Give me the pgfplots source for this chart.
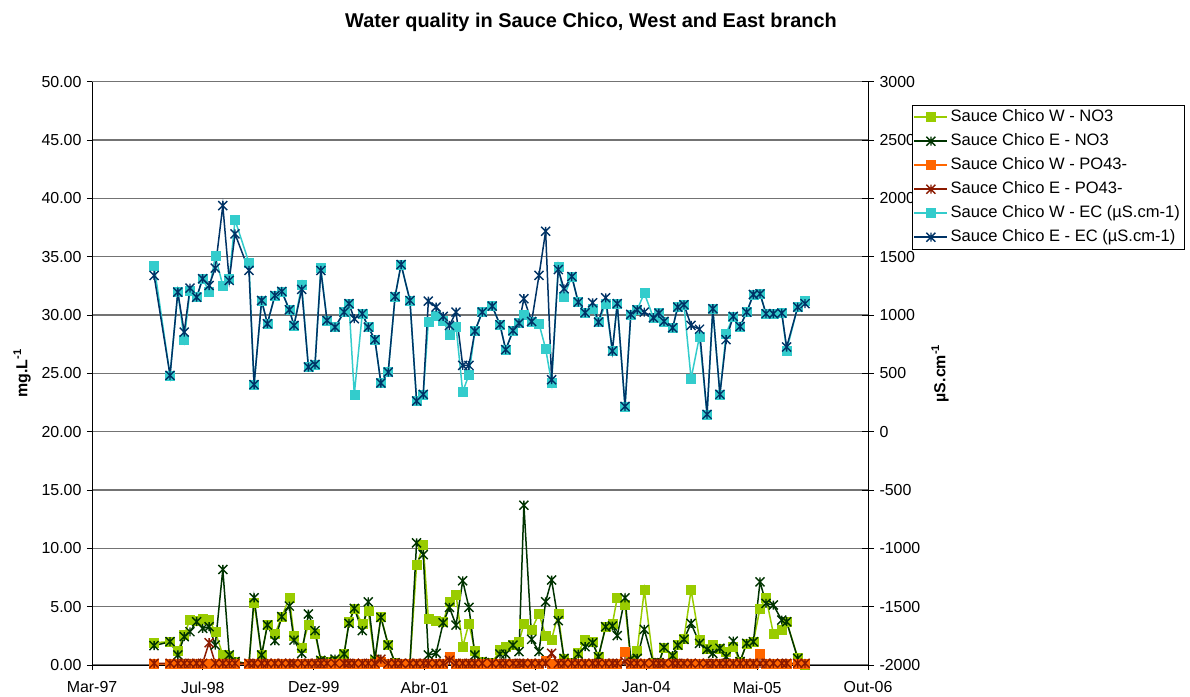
\documentclass[border=0pt]{standalone}
\usepackage{fontspec}
\setmainfont{Liberation Sans}
\usepackage{pgfplots}
\pgfplotsset{compat=1.18}
\usepackage{pgfplotstable}

\definecolor{nwc}{HTML}{99CC00}
\definecolor{nec}{HTML}{003300}
\definecolor{pwc}{HTML}{FF6600}
\definecolor{pec}{HTML}{8B1A00}
\definecolor{ewc}{HTML}{33CCCC}
\definecolor{eec}{HTML}{003366}

\pgfdeclareplotmark{xstar}{%
  \pgfpathmoveto{\pgfqpoint{0pt}{\pgfplotmarksize}}%
  \pgfpathlineto{\pgfqpoint{0pt}{-\pgfplotmarksize}}%
  \pgfpathmoveto{\pgfqpoint{-\pgfplotmarksize}{-\pgfplotmarksize}}%
  \pgfpathlineto{\pgfqpoint{\pgfplotmarksize}{\pgfplotmarksize}}%
  \pgfpathmoveto{\pgfqpoint{-\pgfplotmarksize}{\pgfplotmarksize}}%
  \pgfpathlineto{\pgfqpoint{\pgfplotmarksize}{-\pgfplotmarksize}}%
  \pgfusepathqstroke}

\pgfplotsset{
  sqstyle/.style={color=#1, line width=1.5bp, mark=square*, mark size=4.5bp,
    mark options={solid, fill=#1, draw=#1, line width=0.5bp}},
  ststyle/.style={color=#1, line width=1.5bp, mark=xstar, mark size=4.5bp,
    mark options={solid, draw=#1, line width=1.4bp}},
}

% d = days since March 1997
\pgfplotstableread{
d nw ne pw pe ecw ece
280 1.91 1.66 0.10 0.15 1425 1339
352 2.00 2.00 0.10 0.15 483 483
387 1.23 0.86 0.10 0.15 1196 1196
416 2.57 2.43 0.10 0.15 789 854
442 3.91 2.85 0.10 0.15 1211 1230
472 3.80 3.71 0.10 0.15 1153 1153
499 4.00 3.14 0.10 0.15 1311 1311
528 3.91 3.28 0.15 1.91 1202 1253
556 2.85 1.71 0.10 0.15 1504 1402
590 0.86 8.19 0.10 0.15 1253 1938
619 0.80 0.86 0.10 0.15 1311 1296
645 0.30 0.30 0.10 0.15 1816 1696
708 0.10 0.10 0.10 0.15 1448 1382
731 5.34 5.76 0.10 0.15 403 403
765 0.86 0.86 0.10 0.15 1125 1125
791 3.42 3.42 0.10 0.15 926 926
825 2.65 2.08 0.10 0.15 1168 1168
856 4.14 4.14 0.10 0.15 1202 1202
890 5.76 5.05 0.10 0.15 1045 1045
911 2.48 2.14 0.10 0.15 911 911
946 1.51 1.00 0.10 0.15 1259 1219
976 3.42 4.37 0.10 0.15 554 554
1006 2.71 2.94 0.10 0.15 577 577
1032 0.40 0.40 0.10 0.15 1405 1382
1060 0.30 0.30 0.10 0.15 954 954
1096 0.40 0.50 0.10 0.15 896 896
1137 0.94 0.94 0.10 0.15 1025 1025
1159 3.71 3.57 0.10 0.15 1097 1097
1183 4.85 4.85 0.10 0.15 320 968
1219 3.51 2.94 0.10 0.15 1011 1011
1246 4.62 5.42 0.10 0.15 896 896
1276 0.40 0.50 0.10 0.15 789 789
1303 4.14 4.08 0.30 0.50 417 417
1336 1.77 1.71 0.10 0.15 511 511
1367 0.20 0.20 0.10 0.15 1159 1159
1394 0.10 0.10 0.10 0.15 1433 1433
1434 0.10 0.10 0.10 0.15 1125 1125
1464 8.56 10.47 0.10 0.15 263 263
1494 10.27 9.47 0.10 0.15 320 320
1517 4.00 0.86 0.10 0.15 939 1119
1552 3.80 1.00 0.10 0.15 997 1068
1584 3.71 3.62 0.10 0.15 954 988
1612 5.42 4.94 0.70 0.40 834 911
1642 6.05 3.42 0.10 0.15 902 1025
1672 1.57 7.22 0.10 0.15 340 568
1700 3.57 4.94 0.10 0.15 489 568
1727 1.23 0.86 0.10 0.15 862 862
1760 0.30 0.30 0.10 0.15 1025 1025
1805 0.20 0.20 0.10 0.15 1076 1076
1840 1.28 0.94 0.10 0.15 917 917
1866 1.57 0.94 0.10 0.15 703 703
1899 1.71 1.71 0.10 0.15 866 866
1926 2.00 1.14 0.10 0.15 931 931
1948 3.51 13.70 0.10 0.15 1005 1140
1983 3.00 2.20 0.10 0.15 945 945
2016 4.42 1.14 0.10 0.15 926 1339
2046 2.48 5.42 0.40 0.15 712 1718
2073 2.20 7.28 0.10 1.00 417 446
2103 4.37 3.80 0.10 0.15 1416 1390
2129 0.50 0.57 0.10 0.15 1159 1225
2164 0.20 0.20 0.10 0.15 1330 1330
2193 1.06 0.94 0.10 0.15 1111 1111
2224 2.20 1.57 0.10 0.15 1020 1020
2258 2.00 1.91 0.10 0.15 1054 1105
2284 0.70 0.70 0.10 0.15 939 939
2317 3.28 3.28 0.10 0.15 1097 1148
2347 3.51 3.34 0.10 0.15 691 691
2369 5.76 2.51 0.10 0.15 1097 1097
2404 5.14 5.76 1.10 0.30 217 217
2430 0.40 0.50 0.10 0.15 1005 1005
2459 1.23 0.57 0.10 0.15 1045 1045
2491 6.42 3.05 0.10 0.15 1188 1025
2532 0.20 0.20 0.10 0.15 977 977
2557 0.20 0.20 0.10 0.15 1016 1016
2580 1.51 1.51 0.10 0.15 945 945
2619 0.70 0.80 0.10 0.15 891 891
2642 1.71 1.71 0.10 0.15 1068 1068
2670 2.28 2.20 0.10 0.15 1088 1088
2702 6.42 3.57 0.10 0.15 455 911
2740 2.20 1.86 0.10 0.15 817 878
2774 1.43 1.34 0.10 0.15 149 149
2800 1.71 1.00 0.10 0.15 1054 1054
2832 1.43 1.43 0.10 0.15 320 320
2860 1.14 0.71 0.10 0.15 840 789
2892 1.57 2.05 0.10 0.15 988 988
2923 0.30 0.30 0.10 0.15 902 902
2953 1.86 1.86 0.10 0.15 1025 1025
2983 2.00 2.00 0.10 0.15 1176 1176
3013 4.85 7.13 1.00 0.15 1182 1182
3040 5.79 5.28 0.10 0.15 1011 1011
3073 2.71 5.14 0.10 0.15 1011 1011
3111 3.00 3.85 0.10 0.15 1016 1016
3133 3.71 3.71 0.10 0.15 697 725
3183 0.66 0.57 0.10 0.15 1068 1068
3216 0.05 0.05 0.10 0.15 1125 1097
}\data

\begin{document}
\begin{tikzpicture}
\useasboundingbox (-92bp,-32bp) rectangle (1098bp,665bp);
\begin{axis}[
  scale only axis, width=776bp, height=583.3bp,
  xmin=0, xmax=3500, ymin=0, ymax=50,
  axis x line*=bottom, axis y line*=left,
  axis line style={black, line width=0.9bp},
  xtick={0,500,...,3500},
  xticklabels={Mar-97,Jul-98,Dez-99,Abr-01,Set-02,Jan-04,Mai-05,Out-06},
  ytick={0,5,...,50},
  tick align=outside, major tick length=5bp,
  tick style={black, line width=0.9bp},
  ymajorgrids, major grid style={color=black!55, line width=1.1bp},
  /pgf/number format/assume math mode=true,
  yticklabel style={/pgf/number format/fixed, /pgf/number format/fixed zerofill, /pgf/number format/precision=2, xshift=-2bp},
  xticklabel style={yshift=-8bp},
  tick label style={font=\fontsize{16}{19}\selectfont},
  ylabel={mg.L\textsuperscript{-1}},
  ylabel style={at={(axis description cs:-0.0902,0.5)}, anchor=center, font=\fontsize{16}{19}\selectfont\bfseries},
  clip=false,
]
\addplot[sqstyle=nwc] table[x=d, y=nw]{\data};
\addplot[ststyle=nec] table[x=d, y=ne]{\data};
\addplot[sqstyle=pwc] table[x=d, y=pw]{\data};
\addplot[ststyle=pec] table[x=d, y=pe]{\data};
\end{axis}
\begin{axis}[
  scale only axis, width=776bp, height=583.3bp,
  xmin=0, xmax=3500, ymin=-2000, ymax=3000,
  axis y line*=right, axis x line=none,
  axis line style={black, line width=0.9bp},
  ytick={-2000,-1500,...,3000},
  ytick align=center, major tick length=12bp,
  tick style={black, line width=0.9bp},
  /pgf/number format/assume math mode=true,
  yticklabel style={/pgf/number format/1000 sep={}, font=\fontsize{16}{19}\selectfont, xshift=2bp},
  ylabel={µS.cm\textsuperscript{-1}},
  ylabel style={at={(axis description cs:1.0928,0.5)}, anchor=center, rotate=0, font=\fontsize{16}{19}\selectfont\bfseries},
  clip=false,
  legend style={at={(1.0567,0.960)}, anchor=north west, draw=black,
    fill=white, font=\fontsize{16.6}{19}\selectfont, inner xsep=1.5bp, inner ysep=0bp,
    nodes={inner ysep=4bp, inner xsep=2.5bp, text height=12bp, text depth=4bp},
    cells={anchor=west}},
  legend image code/.code={\draw[mark repeat=2, mark phase=2] plot coordinates {(0bp,0bp) (16.5bp,0bp) (33bp,0bp)};},
]
\addlegendimage{sqstyle=nwc}\addlegendentry{Sauce Chico W - NO3}
\addlegendimage{ststyle=nec}\addlegendentry{Sauce Chico E - NO3}
\addlegendimage{sqstyle=pwc}\addlegendentry{Sauce Chico W - PO43-}
\addlegendimage{ststyle=pec}\addlegendentry{Sauce Chico E - PO43-}
\addplot[sqstyle=ewc] table[x=d, y=ecw]{\data};
\addlegendentry{Sauce Chico W - EC (µS.cm-1)}
\addplot[ststyle=eec] table[x=d, y=ece]{\data};
\addlegendentry{Sauce Chico E - EC (µS.cm-1)}
\end{axis}
\node[font=\fontsize{20}{24}\selectfont\bfseries, anchor=base] at (499bp,637bp) {Water quality in Sauce Chico, West and East branch};
\end{tikzpicture}
\end{document}
